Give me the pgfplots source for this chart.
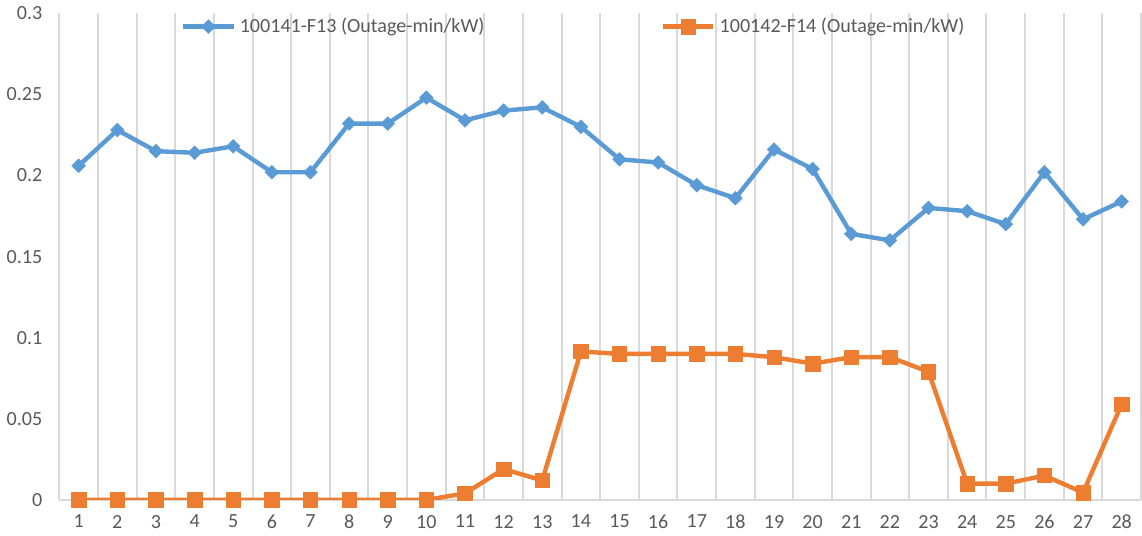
\documentclass[border=0pt]{standalone}
\usepackage{fontspec}
\setmainfont{Carlito}
\usepackage{pgfplots}
\pgfplotsset{compat=1.18}
\definecolor{cblue}{HTML}{5B9BD5}
\definecolor{corange}{HTML}{ED7D31}
\definecolor{cgrid}{HTML}{D9D9D9}
\definecolor{ctext}{HTML}{595959}
\begin{document}
\fontsize{10pt}{12pt}\selectfont
\begin{tikzpicture}
\begin{axis}[
  scale only axis,
  width=539pt, height=242.5pt,
  xmin=0.5, xmax=28.5, ymin=0, ymax=0.3,
  xtick={1,...,28},
  minor xtick={0.5,1.5,...,28.5},
  xminorgrids=true,
  minor grid style={cgrid, line width=1pt},
  minor tick length=0pt,
  major tick length=0pt,
  ytick={0,0.05,...,0.3},
  yticklabels={0,0.05,0.1,0.15,0.2,0.25,0.3},
  axis line style={draw=none},
  extra y ticks={0},
  extra y tick labels={},
  extra y tick style={grid=major, major grid style={cgrid, line width=1pt}},
  tick label style={font=\fontsize{10pt}{12pt}\selectfont, text=ctext},
  /pgf/number format/assume math mode=true,
  yticklabel style={xshift=-5pt},
  xticklabel style={yshift=-4pt},
  legend style={draw=none, fill=none, at={(0.4765,1.008)}, anchor=north,
    font=\fontsize{10pt}{12pt}\selectfont, text=ctext},
  legend columns=2,
  legend cell align=left,
  /tikz/every even column/.append style={column sep=86pt},
  legend image code/.code={\draw[mark repeat=2,mark phase=2] plot coordinates {(0pt,0pt)(12.5pt,0pt)(25pt,0pt)};},
]
\addplot[cblue, line width=2.2pt, mark=square*, mark size=2.4pt, mark options={solid, rotate=45, line width=0.3pt, fill=cblue}] coordinates {
(1,0.206)(2,0.228)(3,0.215)(4,0.214)(5,0.218)(6,0.202)(7,0.202)(8,0.232)(9,0.232)(10,0.248)
(11,0.234)(12,0.240)(13,0.242)(14,0.230)(15,0.210)(16,0.208)(17,0.194)(18,0.186)(19,0.216)(20,0.204)
(21,0.164)(22,0.160)(23,0.180)(24,0.178)(25,0.170)(26,0.202)(27,0.173)(28,0.184)};
\addlegendentry{100141-F13 (Outage-min/kW)}
\addplot[corange, line width=2.2pt, mark=square*, mark size=3.6pt, mark options={solid, line width=0.3pt, fill=corange}] coordinates {
(1,0)(2,0)(3,0)(4,0)(5,0)(6,0)(7,0)(8,0)(9,0)(10,0)
(11,0.004)(12,0.019)(13,0.012)(14,0.0915)(15,0.090)(16,0.090)(17,0.090)(18,0.090)(19,0.088)(20,0.084)
(21,0.088)(22,0.088)(23,0.079)(24,0.010)(25,0.010)(26,0.015)(27,0.0045)(28,0.059)};
\addlegendentry{100142-F14 (Outage-min/kW)}
\end{axis}
\end{tikzpicture}
\end{document}
